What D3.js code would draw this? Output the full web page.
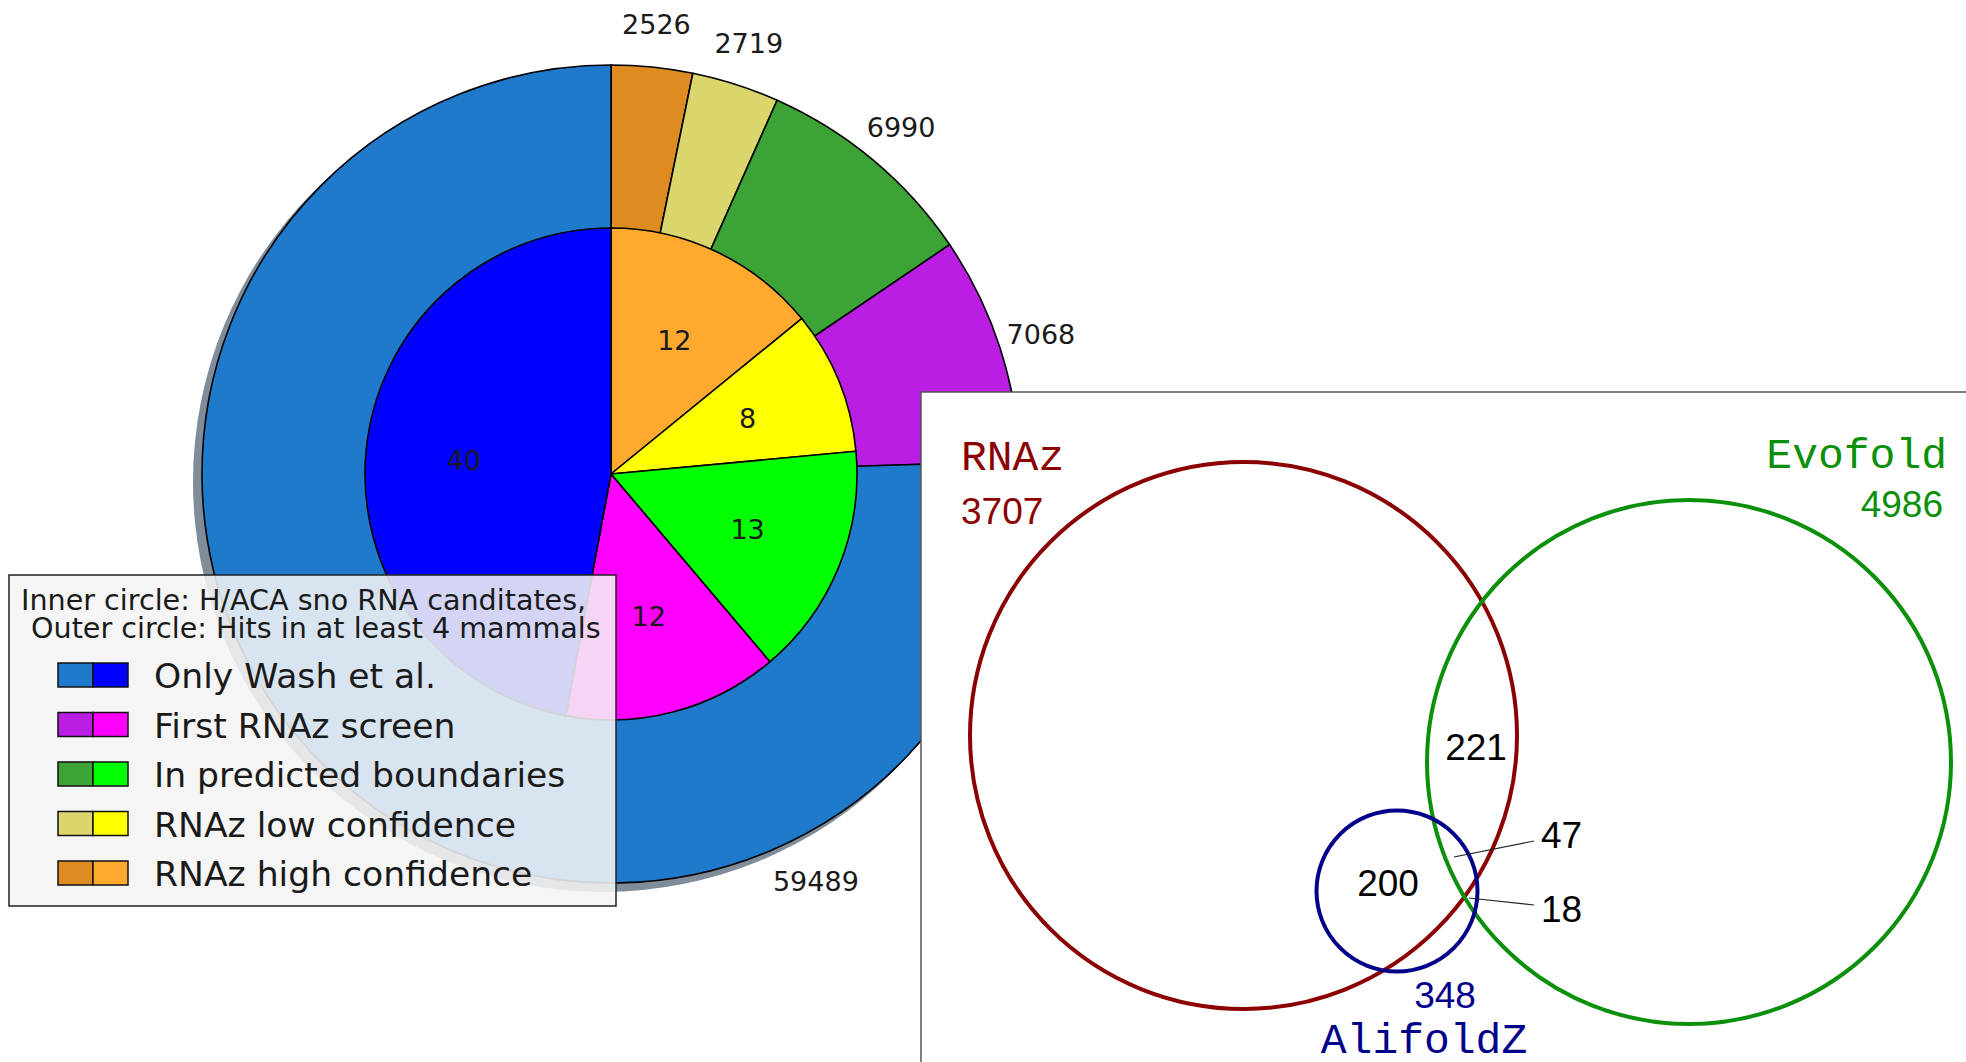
<!DOCTYPE html>
<html>
<head>
<meta charset="utf-8">
<script src="https://cdn.jsdelivr.net/npm/d3@7"></script>
<style>
  body { margin: 0; background: #fff; }
  svg { display: block; }
</style>
</head>
<body>
<svg id="canvas" width="1966" height="1062"></svg>
<script>
// pie data, in drawing order (clockwise from 12 o'clock)
var categories = ["RNAz high confidence", "RNAz low confidence", "In predicted boundaries", "First RNAz screen", "Only Wash et al."]
var outerValues = [2526, 2719, 6990, 7068, 59489]
var innerValues = [12, 8, 13, 12, 40]
var outerColors = ["#de8c20", "#dbd66c", "#3ea337", "#ba1ee2", "#1f7acc"]
var innerColors = ["#ffaa2f", "#ffff00", "#00ff00", "#ff00ff", "#0000ff"]
var legendTitle = ["Inner circle: H/ACA sno RNA canditates,", "Outer circle: Hits in at least 4 mammals"]

// venn data
var vennSets = ["RNAz", "Evofold", "AlifoldZ"]
var vennTotals = [3707, 4986, 348]
var vennColors = ["#8b0000", "#0c900c", "#00008b"]
var vennOverlaps = ["221", "200", "47", "18"]

var width = 1966, height = 1062
var svg = d3.select('#canvas')

// ---------- pie ----------
var cx = 611, cy = 474
var rOuter = 409, rInner = 246
var pie = d3.pie().sort(null).value(d => d)

var g = svg.append('g').attr('transform', 'translate(' + cx + ',' + cy + ')')

// matplotlib style shadow
g.append('circle')
  .attr('cx', -8).attr('cy', 8).attr('r', rOuter + 1)
  .attr('fill', '#7f8d9b')

var outerArc = d3.arc().innerRadius(0).outerRadius(rOuter)
var innerArc = d3.arc().innerRadius(0).outerRadius(rInner)

var outerData = pie(outerValues)
var innerData = pie(innerValues)

g.append('g').selectAll('path')
  .data(outerData)
  .enter()
  .append('path')
  .attr('d', outerArc)
  .attr('fill', (d, i) => outerColors[i])
  .attr('stroke', 'black')
  .attr('stroke-width', 1.6)
  .attr('stroke-linejoin', 'round')

g.append('g').selectAll('path')
  .data(innerData)
  .enter()
  .append('path')
  .attr('d', innerArc)
  .attr('fill', (d, i) => innerColors[i])
  .attr('stroke', 'black')
  .attr('stroke-width', 1.6)
  .attr('stroke-linejoin', 'round')

function polar(angle, r) {
  return [r * Math.sin(angle), -r * Math.cos(angle)]
}

// the big slice label sits lower, away from the legend
var outerLabelAngle = outerData.map(function(d, i) {
  if (i == 4) return 153.3 * Math.PI / 180
  return (d.startAngle + d.endAngle) / 2
})

g.append('g').selectAll('text')
  .data(outerData)
  .enter()
  .append('text')
  .attr('x', (d, i) => polar(outerLabelAngle[i], rOuter * (i == 4 ? 1.115 : 1.105))[0])
  .attr('y', (d, i) => polar(outerLabelAngle[i], rOuter * (i == 4 ? 1.115 : 1.105))[1])
  .attr('text-anchor', 'middle')
  .attr('dominant-baseline', 'central')
  .attr('font-family', 'DejaVu Sans')
  .attr('font-size', 27)
  .attr('fill', '#1a1a1a')
  .text(d => d.data)

g.append('g').selectAll('text')
  .data(innerData)
  .enter()
  .append('text')
  .attr('x', d => polar((d.startAngle + d.endAngle) / 2, rInner * 0.6)[0])
  .attr('y', d => polar((d.startAngle + d.endAngle) / 2, rInner * 0.6)[1])
  .attr('text-anchor', 'middle')
  .attr('dominant-baseline', 'central')
  .attr('font-family', 'DejaVu Sans')
  .attr('font-size', 27)
  .attr('fill', '#1a1a1a')
  .text(d => d.data)

// ---------- legend ----------
var lg = svg.append('g').attr('transform', 'translate(9,575)')
lg.append('rect')
  .attr('width', 607).attr('height', 331)
  .attr('fill', '#f4f4f4').attr('fill-opacity', 0.87)
  .attr('stroke', '#222').attr('stroke-width', 1.5)

lg.selectAll('text.title')
  .data(legendTitle)
  .enter()
  .append('text')
  .attr('class', 'title')
  .attr('x', (d, i) => i == 0 ? 12 : 22)
  .attr('y', (d, i) => 35 + i * 28)
  .attr('font-family', 'DejaVu Sans')
  .attr('font-size', 28.6)
  .attr('fill', '#1a1a1a')
  .text(d => d)

var legendOrder = d3.range(categories.length).reverse()
var rowY = d3.scalePoint().domain(legendOrder).range([100, 298])

var rows = lg.selectAll('g.row')
  .data(legendOrder)
  .enter()
  .append('g')
  .attr('class', 'row')
  .attr('transform', d => 'translate(0,' + rowY(d) + ')')

rows.append('rect')
  .attr('x', 49).attr('y', -12).attr('width', 35).attr('height', 24)
  .attr('fill', d => outerColors[d])
  .attr('stroke', '#111').attr('stroke-width', 1.5)
rows.append('rect')
  .attr('x', 84).attr('y', -12).attr('width', 35).attr('height', 24)
  .attr('fill', d => innerColors[d])
  .attr('stroke', '#111').attr('stroke-width', 1.5)
rows.append('text')
  .attr('x', 145)
  .attr('y', 1)
  .attr('dominant-baseline', 'central')
  .attr('font-family', 'DejaVu Sans')
  .attr('font-size', 34.6)
  .attr('fill', '#1a1a1a')
  .text(d => categories[d])

// ---------- venn panel ----------
var vp = svg.append('g')
vp.append('rect')
  .attr('x', 921).attr('y', 392)
  .attr('width', 1100).attr('height', 700)
  .attr('fill', 'white')
  .attr('stroke', '#555').attr('stroke-width', 1.5)

var circles = [
  {cx: 1243.5, cy: 735.5, r: 273.5},
  {cx: 1689, cy: 762, r: 262},
  {cx: 1397, cy: 891, r: 80.5}
]

vp.selectAll('circle')
  .data(circles)
  .enter()
  .append('circle')
  .attr('cx', d => d.cx).attr('cy', d => d.cy).attr('r', d => d.r)
  .attr('fill', 'none')
  .attr('stroke', (d, i) => vennColors[i])
  .attr('stroke-width', 4)

// set names and totals
var nameSpots = [
  {x: 961, y: 470, anchor: 'start', ty: 524},
  {x: 1947, y: 468, anchor: 'end', ty: 517, tx: 1943},
  {x: 1424, y: 1053, anchor: 'middle', ty: 1008, tx: 1445}
]

vp.selectAll('text.name')
  .data(vennSets)
  .enter()
  .append('text')
  .attr('class', 'name')
  .attr('x', (d, i) => nameSpots[i].x)
  .attr('y', (d, i) => nameSpots[i].y)
  .attr('text-anchor', (d, i) => nameSpots[i].anchor)
  .attr('font-family', 'Courier New, Courier, Nimbus Mono PS, FreeMono, Liberation Mono, monospace')
  .attr('font-size', 43)
  .attr('fill', (d, i) => vennColors[i])
  .text(d => d)

vp.selectAll('text.total')
  .data(vennTotals)
  .enter()
  .append('text')
  .attr('class', 'total')
  .attr('x', (d, i) => nameSpots[i].tx || nameSpots[i].x)
  .attr('y', (d, i) => nameSpots[i].ty)
  .attr('text-anchor', (d, i) => nameSpots[i].anchor)
  .attr('font-family', 'Liberation Sans, Arial, sans-serif')
  .attr('font-size', 37)
  .attr('fill', (d, i) => vennColors[i])
  .text(d => d)

// overlap counts
var overlapSpots = [
  {x: 1476, y: 760, anchor: 'middle'},
  {x: 1388, y: 896, anchor: 'middle'},
  {x: 1541, y: 848, anchor: 'start', lx1: 1534, ly1: 841, lx2: 1454, ly2: 857},
  {x: 1541, y: 922, anchor: 'start', lx1: 1534, ly1: 905, lx2: 1469, ly2: 898}
]

vp.selectAll('line.leader')
  .data(overlapSpots.filter(d => d.lx1))
  .enter()
  .append('line')
  .attr('class', 'leader')
  .attr('x1', d => d.lx1).attr('y1', d => d.ly1)
  .attr('x2', d => d.lx2).attr('y2', d => d.ly2)
  .attr('stroke', '#222').attr('stroke-width', 1.2)

vp.selectAll('text.overlap')
  .data(vennOverlaps)
  .enter()
  .append('text')
  .attr('class', 'overlap')
  .attr('x', (d, i) => overlapSpots[i].x)
  .attr('y', (d, i) => overlapSpots[i].y)
  .attr('text-anchor', (d, i) => overlapSpots[i].anchor)
  .attr('font-family', 'Liberation Sans, Arial, sans-serif')
  .attr('font-size', 37)
  .attr('fill', 'black')
  .text(d => d)
</script>
</body>
</html>
